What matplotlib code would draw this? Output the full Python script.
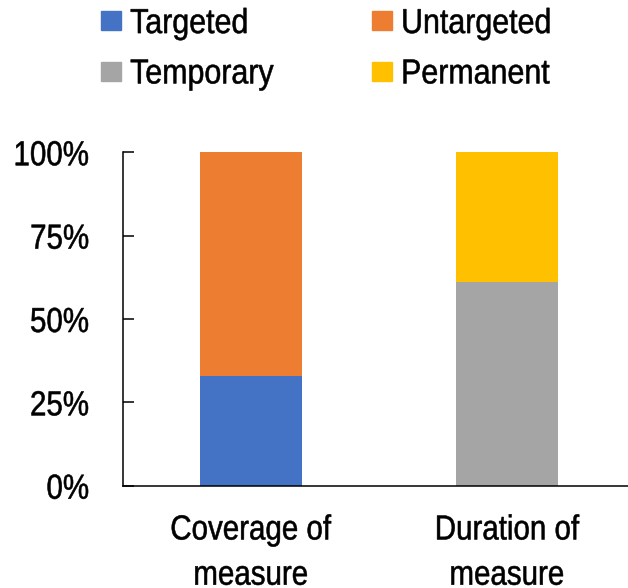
import matplotlib
matplotlib.use("Agg")
import matplotlib.pyplot as plt
from matplotlib.patches import Patch
from matplotlib.patheffects import AbstractPathEffect
from matplotlib.transforms import Affine2D
from matplotlib.ticker import PercentFormatter

plt.rcParams['font.family'] = ['Liberation Sans', 'DejaVu Sans']

categories = ["Coverage of\nmeasure", "Duration of\nmeasure"]
targeted = [33, 0]
untargeted = [67, 0]
temporary = [0, 61]
permanent = [0, 39]

colors = {
    "Targeted": "#4472C4",
    "Untargeted": "#ED7D31",
    "Temporary": "#A5A5A5",
    "Permanent": "#FFC000",
}


class Condense(AbstractPathEffect):
    """Draw text horizontally condensed around a chosen anchor of each line,
    with a hairline outline so the narrowed stems keep their weight."""

    def __init__(self, sx=0.85, anchor="center", stroke=0.4):
        super().__init__()
        self.sx = sx
        self.anchor = anchor
        self.stroke = stroke

    def draw_path(self, renderer, gc, tpath, affine, rgbFace=None):
        ext = tpath.get_extents()
        if self.anchor == "left":
            cx = ext.x0
        elif self.anchor == "right":
            cx = ext.x1
        else:
            cx = 0.5 * (ext.x0 + ext.x1)
        squeeze = Affine2D().translate(-cx, 0).scale(self.sx, 1).translate(cx, 0)
        gc0 = renderer.new_gc()
        gc0.copy_properties(gc)
        gc0.set_linewidth(self.stroke)
        if rgbFace is not None:
            gc0.set_foreground(rgbFace)
        renderer.draw_path(gc0, tpath, squeeze + affine, rgbFace)
        gc0.restore()


SX = 0.85
SX_LEGEND = 0.875
FS = 25

fig = plt.figure(figsize=(6.28, 5.88), dpi=100)
ax = fig.add_axes([0.1954, 0.174, 0.8156, 0.567])

x = [0.5, 1.5]
w = 0.40
ax.bar(x, targeted, w, color=colors["Targeted"], label="Targeted")
ax.bar(x, untargeted, w, bottom=targeted, color=colors["Untargeted"], label="Untargeted")
ax.bar(x, temporary, w, color=colors["Temporary"], label="Temporary")
ax.bar(x, permanent, w, bottom=temporary, color=colors["Permanent"], label="Permanent")

ax.set_xlim(0, 2)
ax.set_ylim(0, 100)
ax.set_yticks([0, 25, 50, 75, 100])
ax.yaxis.set_major_formatter(PercentFormatter(decimals=0))
ax.set_xticks(x)
ax.set_xticklabels(categories, linespacing=1.47)

for side in ("top", "right"):
    ax.spines[side].set_visible(False)
for side in ("left", "bottom"):
    ax.spines[side].set_linewidth(1.1)
    ax.spines[side].set_color("black")

ax.tick_params(axis="y", direction="in", length=8, width=1.1, pad=24, labelsize=FS)
ax.tick_params(axis="x", length=0, pad=20, labelsize=FS)

for lbl in ax.get_yticklabels():
    lbl.set_path_effects([Condense(SX, "right")])
for lbl in ax.get_xticklabels():
    lbl.set_path_effects([Condense(SX, "center")])

handles = [
    Patch(color=colors["Targeted"]),
    Patch(color=colors["Temporary"]),
    Patch(color=colors["Untargeted"]),
    Patch(color=colors["Permanent"]),
]
labels = ["Targeted", "Temporary", "Untargeted", "Permanent"]
leg = fig.legend(handles, labels, ncol=2, loc="upper left",
                 bbox_to_anchor=(0.1608, 0.988), frameon=False, fontsize=FS,
                 handlelength=0.576, handleheight=0.465, handletextpad=0.26,
                 columnspacing=2.23, labelspacing=0.5, borderpad=0.0,
                 borderaxespad=0.0)
for t in leg.get_texts():
    t.set_path_effects([Condense(SX_LEGEND, "left")])

fig.savefig("out.png", dpi=100)
